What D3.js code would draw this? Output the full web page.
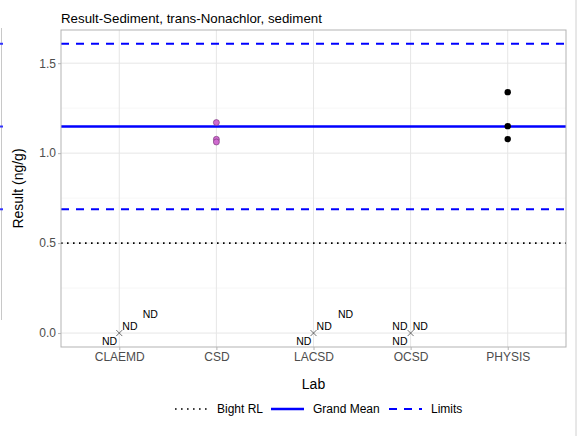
<!DOCTYPE html>
<html>
<head>
<meta charset="utf-8">
<script src="https://cdn.jsdelivr.net/npm/d3@7"></script>
<style>
  body { margin: 0; background: #fff; }
  svg text { font-family: "Liberation Sans", Arial, sans-serif; }
</style>
</head>
<body>
<script>
// data
var labs = ["CLAEMD", "CSD", "LACSD", "OCSD", "PHYSIS"];
var csd_vals = [1.17, 1.077, 1.062];
var physis_vals = [1.339, 1.15, 1.078];
var nd_labs = ["CLAEMD", "LACSD", "OCSD"];
var grand_mean = 1.148;
var limits = [1.608, 0.688];
var bight_rl = 0.5;
var y_ticks = [0, 0.5, 1.0, 1.5];
var y_minor = [0.25, 0.75, 1.25];
// ND text nudges (category units, value units) per lab
var nd_nudge = {
  CLAEMD: [[-0.1, -0.045], [0.11, 0.035], [0.32, 0.105]],
  LACSD:  [[-0.1, -0.045], [0.11, 0.035], [0.33, 0.105]],
  OCSD:   [[-0.11, 0.035], [0.1, 0.035], [-0.11, -0.045]]
};

var W = 577, H = 436;
var m = {left: 61, right: 566, top: 30, bottom: 347};

var svg = d3.select("body").append("svg")
  .attr("width", W).attr("height", H);

// scales
var step = (m.right - m.left) / (labs.length - 1 + 1.2);
var x = d3.scalePoint().domain(labs)
  .range([m.left + 0.6 * step, m.right - 0.6 * step]);
var xc = function(lab, dx) { return x(lab) + dx * step; };
var y = d3.scaleLinear().domain([-0.0775, 1.6845]).range([m.bottom, m.top]);

// leftover frame edges from the neighbouring panels
svg.append("line").attr("x1", 1.5).attr("x2", 1.5).attr("y1", 28).attr("y2", 320)
  .attr("stroke", "#c8c8c8").attr("stroke-width", 1);
[1.608, 1.148, 0.688].forEach(function(v) {
  svg.append("line").attr("x1", 0).attr("x2", 3).attr("y1", y(v)).attr("y2", y(v))
    .attr("stroke", "#3333ff").attr("stroke-width", 2);
});
svg.append("line").attr("x1", 576).attr("x2", 576).attr("y1", 0).attr("y2", H)
  .attr("stroke", "#d0d0d0").attr("stroke-width", 1);

// grid
var g = svg.append("g");
g.selectAll(".minor").data(y_minor).enter().append("line")
  .attr("x1", m.left).attr("x2", m.right)
  .attr("y1", function(d) { return y(d); }).attr("y2", function(d) { return y(d); })
  .attr("stroke", "#f2f2f2").attr("stroke-width", 0.6);
g.selectAll(".major").data(y_ticks).enter().append("line")
  .attr("x1", m.left).attr("x2", m.right)
  .attr("y1", function(d) { return y(d); }).attr("y2", function(d) { return y(d); })
  .attr("stroke", "#e6e6e6").attr("stroke-width", 1);
g.selectAll(".vgrid").data(labs).enter().append("line")
  .attr("x1", function(d) { return x(d); }).attr("x2", function(d) { return x(d); })
  .attr("y1", m.top).attr("y2", m.bottom)
  .attr("stroke", "#e6e6e6").attr("stroke-width", 1);

// reference lines
var hline = function(v, col, w, dash) {
  svg.append("line")
    .attr("x1", m.left).attr("x2", m.right)
    .attr("y1", y(v)).attr("y2", y(v))
    .attr("stroke", col).attr("stroke-width", w)
    .attr("stroke-dasharray", dash);
};
hline(bight_rl, "#000", 1.6, "1.6 4.4");
hline(grand_mean, "#0000ff", 2.4, null);
limits.forEach(function(v) { hline(v, "#0000ff", 2, "8 7"); });

// points
svg.selectAll(".csd").data(csd_vals).enter().append("circle")
  .attr("cx", x("CSD")).attr("cy", function(d) { return y(d); })
  .attr("r", 3).attr("fill", "#cf6bcf").attr("stroke", "#6e2f6e").attr("stroke-width", 0.6);
svg.selectAll(".phy").data(physis_vals).enter().append("circle")
  .attr("cx", x("PHYSIS")).attr("cy", function(d) { return y(d); })
  .attr("r", 3.2).attr("fill", "#000");

// ND crosses + labels
nd_labs.forEach(function(lab) {
  var cx = x(lab), cy = y(0);
  svg.append("path")
    .attr("d", "M" + (cx - 3) + "," + (cy - 3) + "L" + (cx + 3) + "," + (cy + 3) +
               "M" + (cx - 3) + "," + (cy + 3) + "L" + (cx + 3) + "," + (cy - 3))
    .attr("stroke", "#333").attr("stroke-width", 0.7);
  nd_nudge[lab].forEach(function(n) {
    svg.append("text")
      .attr("x", xc(lab, n[0])).attr("y", y(n[1]))
      .attr("text-anchor", "middle").attr("dy", "0.35em")
      .attr("font-size", 10.5).attr("fill", "#000").text("ND");
  });
});

// panel border
svg.append("rect").attr("x", m.left).attr("y", m.top)
  .attr("width", m.right - m.left).attr("height", m.bottom - m.top)
  .attr("fill", "none").attr("stroke", "#b3b3b3").attr("stroke-width", 1);

// axes
var ya = svg.append("g").attr("transform", "translate(" + m.left + ",0)")
  .call(d3.axisLeft(y).tickValues(y_ticks).tickFormat(d3.format(".1f")).tickSize(3).tickPadding(2));
ya.select(".domain").remove();
ya.selectAll("line").attr("stroke", "#b3b3b3");
ya.selectAll("text").attr("fill", "#4d4d4d").attr("font-size", 12);

var xa = svg.append("g").attr("transform", "translate(0," + m.bottom + ")")
  .call(d3.axisBottom(x).tickSize(3).tickPadding(2));
xa.select(".domain").remove();
xa.selectAll("line").attr("stroke", "#b3b3b3");
xa.selectAll("text").attr("fill", "#4d4d4d").attr("font-size", 12);

// titles
svg.append("text").attr("x", m.left).attr("y", 23)
  .attr("font-size", 13.3).attr("fill", "#000")
  .text("Result-Sediment, trans-Nonachlor, sediment");
svg.append("text").attr("transform", "translate(23," + ((m.top + m.bottom) / 2) + ") rotate(-90)")
  .attr("text-anchor", "middle").attr("font-size", 14).attr("fill", "#000")
  .text("Result (ng/g)");
svg.append("text").attr("x", (m.left + m.right) / 2).attr("y", 389)
  .attr("text-anchor", "middle").attr("font-size", 14).attr("fill", "#000")
  .text("Lab");

// legend
var legend = [
  {name: "Bight RL", col: "#000", w: 1.6, dash: "1.6 4.4", x0: 175},
  {name: "Grand Mean", col: "#0000ff", w: 2.4, dash: null, x0: 271},
  {name: "Limits", col: "#0000ff", w: 2, dash: "8 7", x0: 389}
];
var ly = 409;
legend.forEach(function(d) {
  svg.append("line").attr("x1", d.x0).attr("x2", d.x0 + 33)
    .attr("y1", ly).attr("y2", ly)
    .attr("stroke", d.col).attr("stroke-width", d.w).attr("stroke-dasharray", d.dash);
  svg.append("text").attr("x", d.x0 + 42).attr("y", ly).attr("dy", "0.35em")
    .attr("font-size", 12).attr("fill", "#000").text(d.name);
});
</script>
</body>
</html>
